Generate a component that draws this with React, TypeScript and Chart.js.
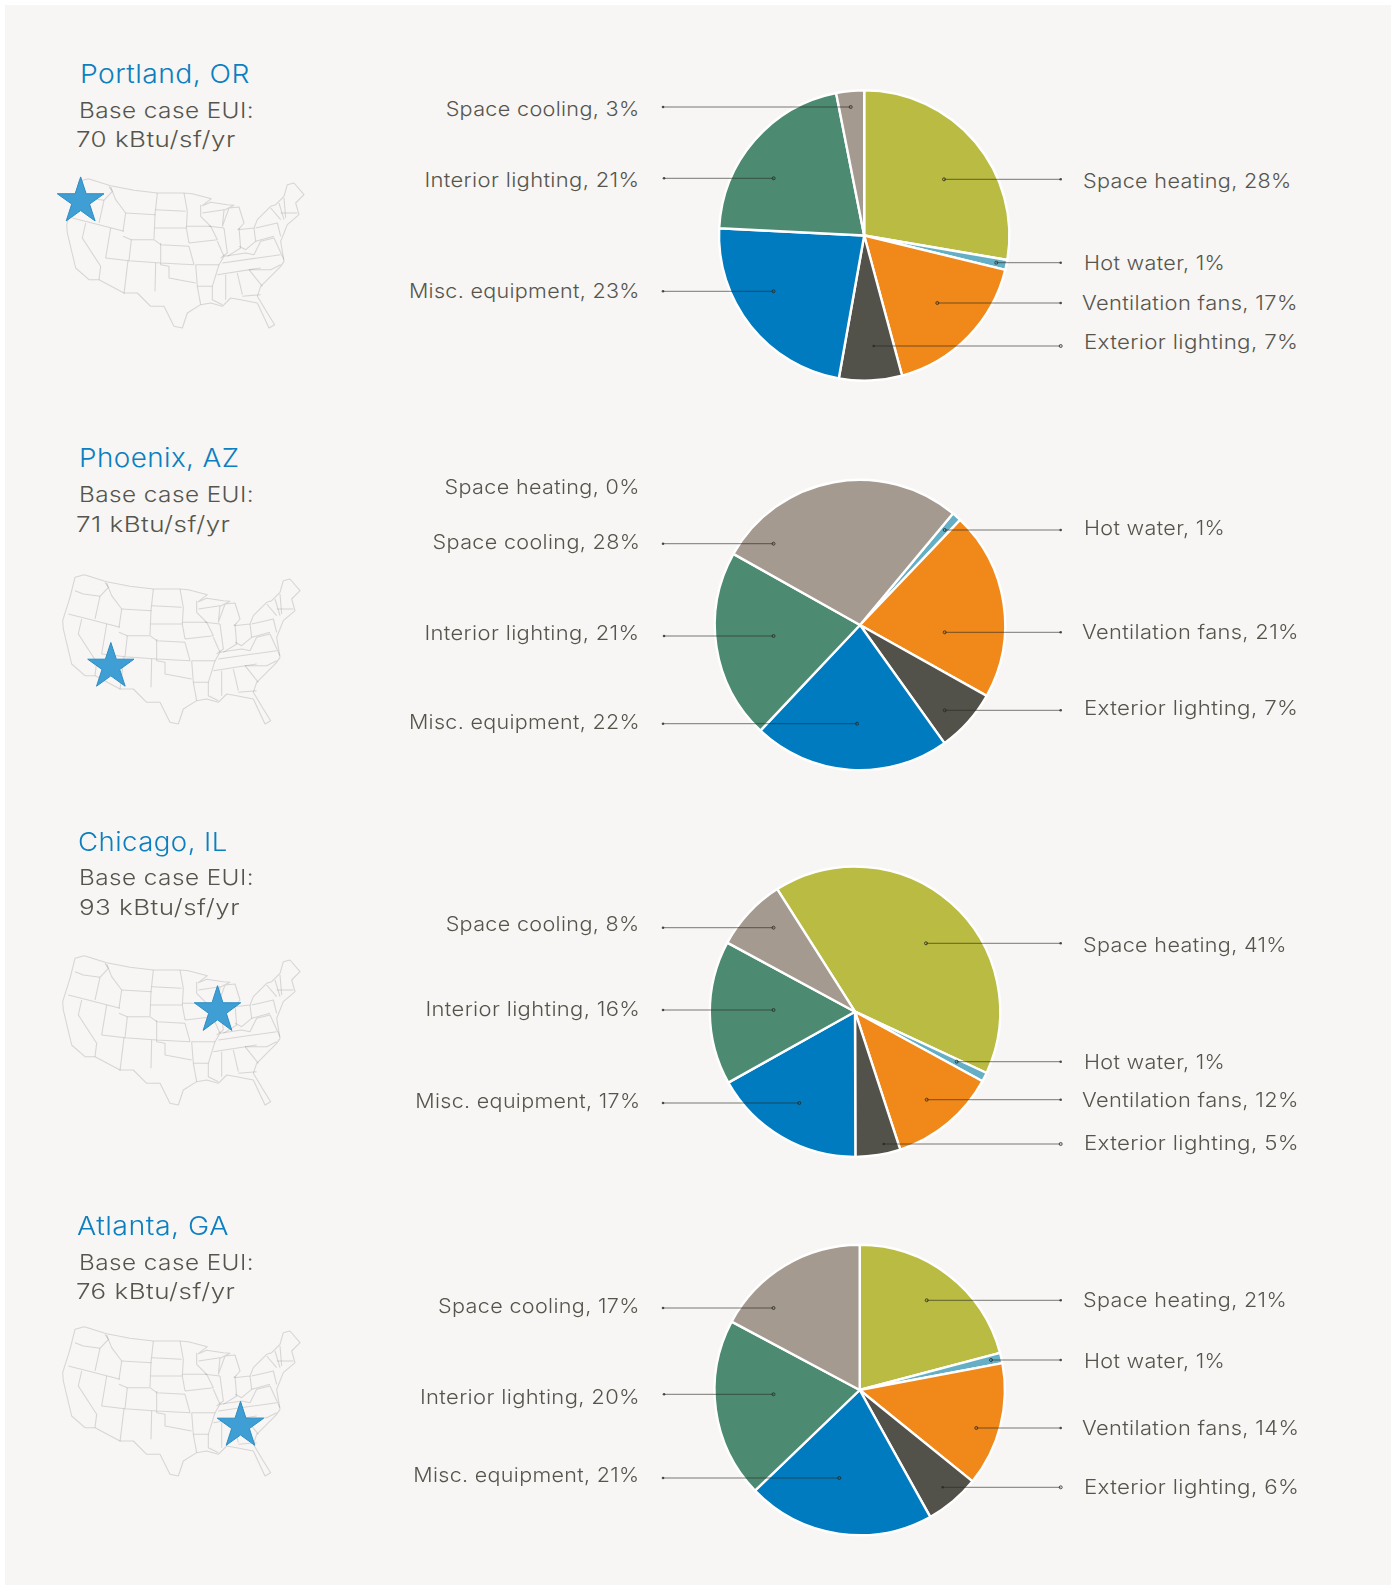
import React, { useEffect, useRef } from "react";
import { Chart, registerables } from "chart.js";

Chart.register(...registerables);

const categories = ["Space heating", "Hot water", "Ventilation fans", "Exterior lighting", "Misc. equipment", "Interior lighting", "Space cooling"];
const portlandValues = [27.7, 1.1, 17, 7, 23, 21.1, 3.1];
const phoenixValues = [0, 1.05, 21, 7, 21.9, 21.1, 27.9];
const chicagoValues = [40.9, 1, 12, 5, 16.9, 16, 8.1];
const atlantaValues = [20.9, 1.15, 13.8, 6.1, 20.9, 20, 17.2];
const portlandLabels = [28, 1, 17, 7, 23, 21, 3];
const phoenixLabels = [0, 1, 21, 7, 22, 21, 28];
const chicagoLabels = [41, 1, 12, 5, 17, 16, 8];
const atlantaLabels = [21, 1, 14, 6, 21, 20, 17];
const cityNames = ["Portland, OR", "Phoenix, AZ", "Chicago, IL", "Atlanta, GA"];
const euiValues = [70, 71, 93, 76];

const sliceColors = ["#b9bb42", "#64afc5", "#f0881a", "#52514a", "#007bbf", "#4c8b72", "#a59a8f"];
const INK = "#56554d";
const FONT = "Inter, 'Noto Sans', sans-serif";
const labelStretch = [1.08, 1.08, 1.095, 1.115, 1.075, 1.1, 1.08];
const titleStretch = [1.088, 1.07, 1.062, 1.1];

type Leader = { y: number; a: number; b: number; outerOpen?: boolean };

const pies = [
  { cx: 864.2, cy: 235.5, rotation: 0 },
  { cx: 860, cy: 625, rotation: 39.8 },
  { cx: 855, cy: 1011.7, rotation: -32.4 },
  { cx: 859.7, cy: 1390, rotation: 0 },
];

// Per-category layout, same order as `categories`; null = no leader
const leaders: (Leader | null)[][] = [
  [{ y: 179.3, a: 944, b: 1060.7 }, { y: 262.7, a: 996.3, b: 1060.7 }, { y: 303, a: 937.3, b: 1060.7 }, { y: 346, a: 873.7, b: 1060.7, outerOpen: true }, { y: 291.3, a: 773.5, b: 663 }, { y: 178.3, a: 773.7, b: 664 }, { y: 107, a: 850.7, b: 663 }],
  [null, { y: 530, a: 944.7, b: 1060.7 }, { y: 632.3, a: 944.7, b: 1060.7 }, { y: 710.3, a: 944.7, b: 1060.7 }, { y: 723.7, a: 857, b: 663 }, { y: 636, a: 773.5, b: 664 }, { y: 543.7, a: 773.5, b: 663 }],
  [{ y: 943.3, a: 926, b: 1060.7 }, { y: 1061.7, a: 956.7, b: 1060.7 }, { y: 1099.7, a: 926.7, b: 1060.7 }, { y: 1144, a: 883.7, b: 1060.7, outerOpen: true }, { y: 1103, a: 799.3, b: 663 }, { y: 1010, a: 773.5, b: 663 }, { y: 927.7, a: 773.5, b: 663 }],
  [{ y: 1300.3, a: 926.7, b: 1060.7 }, { y: 1360, a: 991, b: 1060.7 }, { y: 1428, a: 976.3, b: 1060.7 }, { y: 1487.3, a: 942.7, b: 1060.7, outerOpen: true }, { y: 1478, a: 839.3, b: 663 }, { y: 1394.3, a: 773.5, b: 664 }, { y: 1308, a: 773.5, b: 663 }],
];

// Label anchor: x, vertical centre. Left column is right-aligned to x.
const labelPos: [number, number][][] = [
  [[1083, 181], [1084, 263], [1082, 303], [1084, 342], [640, 291], [640, 180], [640, 109]],
  [[640, 487], [1084, 528], [1082, 632], [1084, 708], [640, 722], [640, 633], [640, 542]],
  [[1083, 945], [1084, 1062], [1082, 1100], [1084, 1143], [640, 1101], [640, 1009], [640, 924]],
  [[1083, 1300], [1084, 1361], [1082, 1428], [1084, 1487], [640, 1475], [640, 1397], [640, 1306]],
];

const headPos = [
  { title: [79.5, 83], base: [79, 118], val: [76, 147] },
  { title: [79, 467], base: [79, 502], val: [76, 532] },
  { title: [78, 851], base: [79, 885], val: [79, 915] },
  { title: [77, 1235], base: [79, 1270], val: [76, 1299] },
];

const maps = [
  { x: 53.7, y: 163.3 },
  { x: 50, y: 559.3 },
  { x: 50, y: 940 },
  { x: 50, y: 1311 },
];
const stars = [
  { l: 57.3, r: 104, t: 176.7, b: 220.7 },
  { l: 87.7, r: 134, t: 642.3, b: 686 },
  { l: 194.3, r: 240.7, t: 986, b: 1030.7 },
  { l: 217.3, r: 263.7, t: 1401.3, b: 1445.3 },
];

const usOutline = "M103,47 L170,68 240,82 310,90 390,90 415,92 472,107 445,128 470,118 520,125 540,127 510,142 505,190 525,135 555,132 570,180 560,192 552,200 600,195 610,170 650,130 665,125 690,100 700,65 720,60 750,95 725,120 735,155 700,185 690,210 680,235 690,295 680,310 620,370 610,400 640,450 662,485 645,495 610,420 560,410 530,405 505,430 470,420 440,425 400,450 385,495 360,490 330,430 290,430 250,390 210,390 135,350 105,350 65,315 40,210 38,185 60,115 75,55 Z";
const usStates = [
  "M75,95 L100,105 150,112", "M165,70 L175,85 150,112 135,180", "M55,165 L135,185 210,205", "M170,72 L185,110 215,150 207,205",
  "M215,150 L305,155", "M310,90 L303,155 300,228", "M305,140 L395,145", "M302,195 L397,195", "M390,90 L400,145 397,195 405,240",
  "M207,220 L232,230 300,230 320,245 405,250", "M170,195 L155,285", "M95,180 L85,225 140,310 135,350", "M155,285 L225,293 320,300 420,305",
  "M305,300 L303,385", "M222,293 L210,392", "M232,230 L225,293", "M320,240 L320,305", "M405,250 L420,305", "M397,190 L470,190 490,230 405,240",
  "M440,125 L440,160 470,190", "M465,190 L510,195", "M490,235 L510,280 495,305 425,305", "M510,195 L520,270 500,285", "M555,195 L560,255 520,280",
  "M600,195 L605,235 575,260 555,250", "M510,280 L575,270 600,275", "M505,300 L680,275", "M490,335 L620,315", "M600,275 L620,235 660,225 690,290",
  "M495,305 L475,370 430,370", "M320,305 L345,310 345,345 425,360", "M430,370 L440,425", "M475,370 L475,410 505,425", "M515,335 L515,410", "M550,330 L565,395",
  "M565,400 L620,395", "M585,320 L625,370", "M585,320 L650,320 680,305", "M605,235 L660,220", "M605,195 L670,180 680,220", "M650,135 L680,170", "M675,120 L690,170", "M690,105 L695,165", "M680,150 L730,150",
  "M425,305 L430,370", "M510,140 L445,150",
];

function starPoints(s: { l: number; r: number; t: number; b: number }) {
  const out: string[] = [];
  const w = s.r - s.l, h = s.b - s.t;
  const R = w / (2 * Math.sin((72 * Math.PI) / 180));
  const cx = (s.l + s.r) / 2, cy = s.t + R;
  for (let i = 0; i < 10; i++) {
    const rr = i % 2 === 0 ? R : R * 0.382;
    const a = (-90 + i * 36) * Math.PI / 180;
    out.push(`${cx + rr * Math.cos(a)},${cy + rr * Math.sin(a) * (h / (R * (1 + Math.cos(36 * Math.PI / 180))))}`);
  }
  return out.join(" ");
}

const CV_X = 650, CV_W = 420, HALF_H = 190, BOX = 146.4;

function Pie({ idx, values }: { idx: number; values: number[] }) {
  const ref = useRef<HTMLCanvasElement>(null);
  const p = pies[idx];
  const top = Math.floor(p.cy) - HALF_H;
  useEffect(() => {
    const leaderPlugin = {
      id: "leaders",
      afterDraw(chart: any) {
        const c = chart.ctx;
        c.save();
        for (const l of leaders[idx]) {
          if (!l) continue;
          const y = l.y - top;
          const a = l.a - CV_X, b = l.b - CV_X;
          c.strokeStyle = "rgba(40,40,35,0.62)";
          c.lineWidth = 1;
          c.beginPath();
          c.moveTo(a, y);
          c.lineTo(b, y);
          c.stroke();
          const openX = l.outerOpen ? b : a;
          const dotX = l.outerOpen ? a : b;
          c.fillStyle = "rgba(40,40,35,0.8)";
          c.beginPath();
          c.arc(dotX, y, 1.3, 0, Math.PI * 2);
          c.fill();
          c.strokeStyle = "rgba(40,40,35,0.8)";
          c.beginPath();
          c.arc(openX, y, 1.5, 0, Math.PI * 2);
          c.stroke();
        }
        c.restore();
      },
    };
    const chart = new Chart(ref.current!, {
      type: "pie",
      data: {
        labels: categories,
        datasets: [{ data: values, backgroundColor: sliceColors, borderColor: "#ffffff", borderWidth: 2.4 }],
      },
      options: {
        animation: false,
        responsive: false,
        rotation: p.rotation,
        layout: {
          padding: {
            left: p.cx - CV_X - BOX,
            right: CV_W - (p.cx - CV_X) - BOX,
            top: p.cy - top - BOX,
            bottom: 2 * HALF_H - (p.cy - top) - BOX,
          },
        },
        plugins: { legend: { display: false }, tooltip: { enabled: false } },
      },
      plugins: [leaderPlugin],
    });
    return () => chart.destroy();
  }, []);
  return <canvas ref={ref} width={CV_W} height={2 * HALF_H} style={{ position: "absolute", left: CV_X, top, width: CV_W, height: 2 * HALF_H }} />;
}

function Txt({ x, y, size, color, right, spacing, stretch, children }: any) {
  return (
    <div style={{ position: "absolute", top: y, left: right ? undefined : x, right: right ? 1395 - x : undefined, transform: `translateY(-50%) scaleX(${stretch})`, transformOrigin: right ? "100% 50%" : "0% 50%", fontSize: size, color, whiteSpace: "nowrap", letterSpacing: spacing, fontFamily: FONT, fontWeight: 300, lineHeight: 1 }}>
      {children}
    </div>
  );
}

export default function App() {
  const allValues = [portlandValues, phoenixValues, chicagoValues, atlantaValues];
  const allLabels = [portlandLabels, phoenixLabels, chicagoLabels, atlantaLabels];
  return (
    <div style={{ position: "absolute", left: 0, top: 0, width: 1395, height: 1585, overflow: "hidden", background: "#ffffff" }}>
      <div style={{ position: "absolute", left: 5, top: 5, width: 1386, height: 1580, background: "#f7f6f4" }} />
      {cityNames.map((name, i) => (
        <React.Fragment key={name}>
          <Txt x={headPos[i].title[0]} y={headPos[i].title[1] - 9} size={26} color="#0b7fbf" spacing="0.4px" stretch={titleStretch[i]}>{name}</Txt>
          <Txt x={headPos[i].base[0]} y={headPos[i].base[1] - 8} size={22} color={INK} spacing="0.4px" stretch={1.105}>Base case EUI:</Txt>
          <Txt x={headPos[i].val[0]} y={headPos[i].val[1] - 8} size={22} color={INK} spacing="0.4px" stretch={1.18}>{euiValues[i]} kBtu/sf/yr</Txt>
          <svg viewBox="0 0 810 540" width={270} height={180} style={{ position: "absolute", left: maps[i].x, top: maps[i].y, filter: "blur(0.6px)" }}>
            <g fill="none" stroke="rgba(140,140,140,0.3)" strokeWidth={3.2} strokeLinejoin="round">
              <path d={usOutline} />
              {usStates.map((d, k) => <path key={k} d={d} />)}
            </g>
          </svg>
          <svg width={1395} height={1585} style={{ position: "absolute", left: 0, top: 0, pointerEvents: "none" }}>
            <polygon points={starPoints(stars[i])} fill="#3f9fd4" stroke="#2a8cc4" strokeWidth={1} />
          </svg>
          <Pie idx={i} values={allValues[i]} />
          {categories.map((c, k) => {
            const pos = labelPos[i][k];
            return <Txt key={c} x={pos[0]} y={pos[1]} size={20} color={INK} right={pos[0] < 700} spacing="0.3px" stretch={labelStretch[k]}>{c}, {allLabels[i][k]}%</Txt>;
          })}
        </React.Fragment>
      ))}
    </div>
  );
}
